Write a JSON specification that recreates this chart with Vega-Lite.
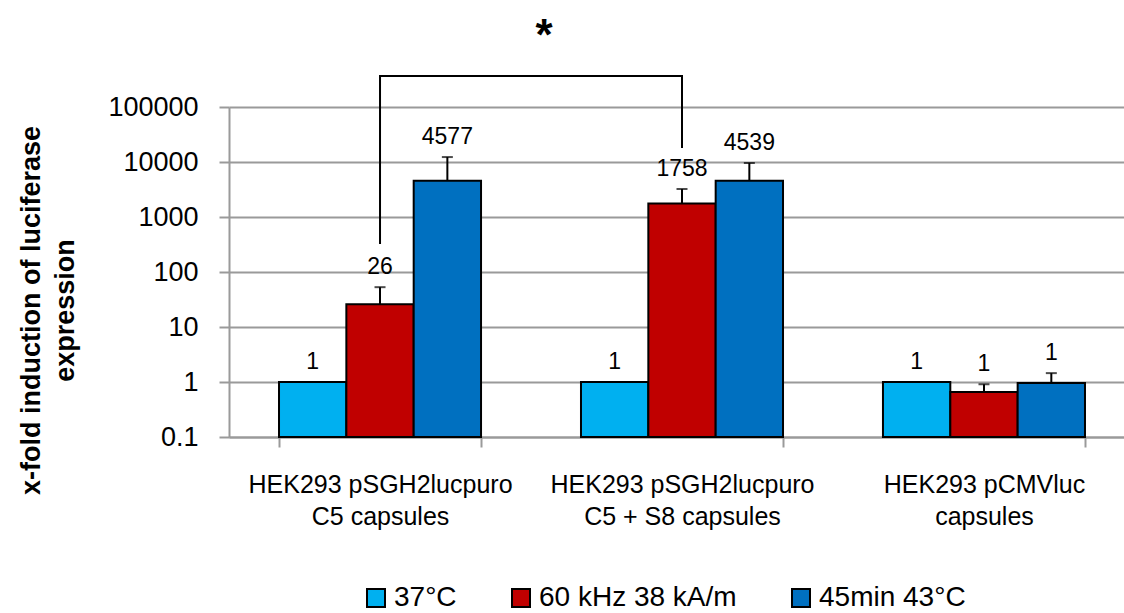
{
  "$schema": "https://vega.github.io/schema/vega-lite/v6.json",
  "width": 895,
  "height": 330,
  "autosize": {"type": "none"},
  "padding": {"left": 229, "top": 107, "right": 0, "bottom": 176},
  "config": {
    "font": "Liberation Sans",
    "view": {"stroke": null},
    "text": {"color": "black"}
  },
  "datasets": {
    "expression": [
      {"group": "HEK293 pSGH2lucpuro\nC5 capsules", "treatment": "37°C", "value": 1, "errHigh": 1},
      {"group": "HEK293 pSGH2lucpuro\nC5 capsules", "treatment": "60 kHz 38 kA/m", "value": 26, "errHigh": 53},
      {"group": "HEK293 pSGH2lucpuro\nC5 capsules", "treatment": "45min 43°C", "value": 4577, "errHigh": 12300},
      {"group": "HEK293 pSGH2lucpuro\nC5 + S8 capsules", "treatment": "37°C", "value": 1, "errHigh": 1},
      {"group": "HEK293 pSGH2lucpuro\nC5 + S8 capsules", "treatment": "60 kHz 38 kA/m", "value": 1758, "errHigh": 3230},
      {"group": "HEK293 pSGH2lucpuro\nC5 + S8 capsules", "treatment": "45min 43°C", "value": 4539, "errHigh": 9590},
      {"group": "HEK293 pCMVluc\ncapsules", "treatment": "37°C", "value": 1, "errHigh": 1},
      {"group": "HEK293 pCMVluc\ncapsules", "treatment": "60 kHz 38 kA/m", "value": 0.66, "errHigh": 0.91},
      {"group": "HEK293 pCMVluc\ncapsules", "treatment": "45min 43°C", "value": 0.96, "errHigh": 1.45}
    ],
    "bracket": [
      {"group": "HEK293 pSGH2lucpuro\nC5 capsules", "step": 1, "level": 323},
      {"group": "HEK293 pSGH2lucpuro\nC5 capsules", "step": 2, "level": 366000},
      {"group": "HEK293 pSGH2lucpuro\nC5 + S8 capsules", "step": 3, "level": 366000},
      {"group": "HEK293 pSGH2lucpuro\nC5 + S8 capsules", "step": 4, "level": 17970}
    ],
    "significance": [
      {"group": "HEK293 pSGH2lucpuro\nC5 + S8 capsules", "level": 1100000, "mark": "*"}
    ]
  },
  "encoding": {
    "x": {
      "field": "group",
      "type": "nominal",
      "sort": ["HEK293 pSGH2lucpuro\nC5 capsules", "HEK293 pSGH2lucpuro\nC5 + S8 capsules", "HEK293 pCMVluc\ncapsules"],
      "scale": {"range": [0, 906], "paddingInner": 0.331, "paddingOuter": 0.1656},
      "axis": {
        "title": null,
        "labelAngle": 0,
        "labelExpr": "split(datum.label, '\\n')",
        "labelFontSize": 25,
        "labelLineHeight": 32,
        "labelColor": "black",
        "labelPadding": 25,
        "labelLimit": 400,
        "tickBand": "extent",
        "tickSize": 10,
        "tickWidth": 2,
        "tickColor": "#9a9a9a",
        "domainColor": "#9a9a9a",
        "domainWidth": 2,
        "grid": false
      }
    }
  },
  "layer": [
    {
      "data": {"name": "expression"},
      "mark": {"type": "bar", "stroke": "black", "strokeWidth": 2},
      "encoding": {
        "xOffset": {"field": "treatment", "type": "nominal", "sort": ["37°C", "60 kHz 38 kA/m", "45min 43°C"], "scale": {"paddingInner": 0, "paddingOuter": 0}},
        "y": {
          "field": "value",
          "type": "quantitative",
          "scale": {"type": "log", "domain": [0.1, 100000], "nice": false},
          "axis": {
            "title": ["x-fold induction of luciferase", "expression"],
            "titleFontSize": 27,
            "titleFontWeight": "bold",
            "titleColor": "black",
            "titleAngle": -90,
            "titleX": -198,
            "titleY": 203,
            "titleAlign": "center",
            "titleBaseline": "middle",
            "titleLineHeight": 34,
            "values": [0.1, 1, 10, 100, 1000, 10000, 100000],
            "format": "~g",
            "labelFontSize": 27,
            "labelColor": "black",
            "labelPadding": 21,
            "tickSize": 10,
            "tickWidth": 2,
            "tickColor": "#9a9a9a",
            "domainColor": "#9a9a9a",
            "domainWidth": 2,
            "grid": true,
            "gridColor": "#9a9a9a",
            "gridWidth": 2
          }
        },
        "y2": {"datum": 0.1},
        "color": {
          "field": "treatment",
          "type": "nominal",
          "scale": {"domain": ["37°C", "60 kHz 38 kA/m", "45min 43°C"], "range": ["#00B0F0", "#C00000", "#0070C0"]},
          "legend": {
            "title": null,
            "orient": "none",
            "direction": "horizontal",
            "legendX": 133,
            "legendY": 477,
            "symbolType": "square",
            "symbolSize": 324,
            "symbolStrokeColor": "black",
            "symbolStrokeWidth": 2,
            "symbolOpacity": 1,
            "labelFontSize": 28,
            "labelColor": "black",
            "labelOffset": 4,
            "labelLimit": 400,
            "columnPadding": 50
          }
        }
      }
    },
    {
      "data": {"name": "expression"},
      "mark": {"type": "rule", "color": "black", "strokeWidth": 2},
      "encoding": {
        "xOffset": {"field": "treatment", "type": "nominal", "sort": ["37°C", "60 kHz 38 kA/m", "45min 43°C"]},
        "y": {"field": "value", "type": "quantitative"},
        "y2": {"field": "errHigh"}
      }
    },
    {
      "data": {"name": "expression"},
      "mark": {"type": "tick", "color": "black", "thickness": 2, "size": 11, "orient": "horizontal"},
      "encoding": {
        "xOffset": {"field": "treatment", "type": "nominal", "sort": ["37°C", "60 kHz 38 kA/m", "45min 43°C"]},
        "y": {"field": "errHigh", "type": "quantitative"}
      }
    },
    {
      "data": {"name": "expression"},
      "mark": {"type": "text", "fontSize": 23, "baseline": "alphabetic", "dy": -13},
      "encoding": {
        "xOffset": {"field": "treatment", "type": "nominal", "sort": ["37°C", "60 kHz 38 kA/m", "45min 43°C"]},
        "y": {"field": "errHigh", "type": "quantitative"},
        "text": {"field": "value", "type": "quantitative", "format": ".0f"}
      }
    },
    {
      "data": {"name": "bracket"},
      "mark": {"type": "line", "color": "black", "strokeWidth": 2, "strokeJoin": "miter"},
      "encoding": {
        "y": {"field": "level", "type": "quantitative"},
        "order": {"field": "step", "type": "quantitative"}
      }
    },
    {
      "data": {"name": "significance"},
      "mark": {"type": "text", "fontSize": 44, "fontWeight": "bold", "baseline": "alphabetic", "dx": -37},
      "encoding": {
        "x": {
          "field": "group",
          "type": "nominal",
          "bandPosition": 0,
          "sort": ["HEK293 pSGH2lucpuro\nC5 capsules", "HEK293 pSGH2lucpuro\nC5 + S8 capsules", "HEK293 pCMVluc\ncapsules"]
        },
        "y": {"field": "level", "type": "quantitative"},
        "text": {"field": "mark"}
      }
    }
  ]
}
